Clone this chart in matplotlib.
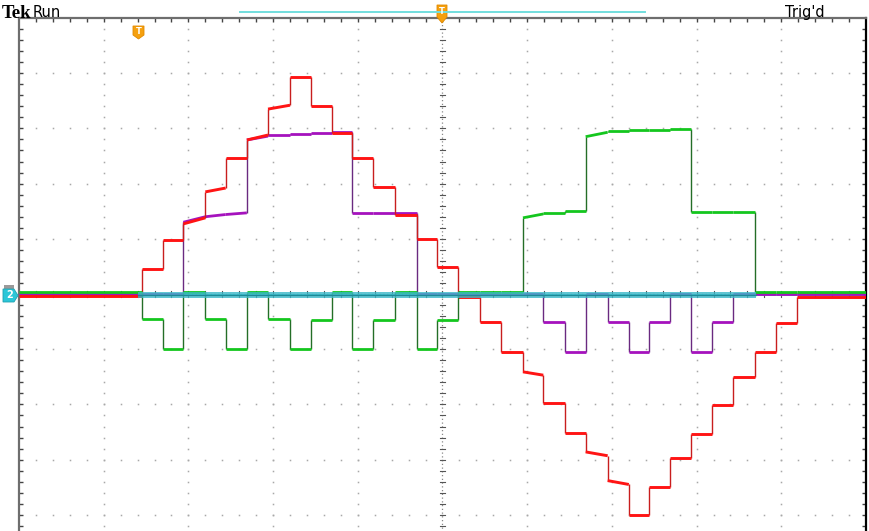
import matplotlib.pyplot as plt
from matplotlib.collections import LineCollection
from matplotlib.patches import Polygon

# screen is 10 x 10 divisions, time and level both in divisions
# step edges shared by all traces (div)
edges = [-3.55, -3.30, -3.06, -2.80, -2.56, -2.31, -2.06, -1.80, -1.55, -1.31,
         -1.07, -0.82, -0.56, -0.30, -0.07, 0.18, 0.44, 0.69, 0.95, 1.19,
         1.45, 1.69, 1.95, 2.20, 2.44, 2.69, 2.93, 3.18, 3.43, 3.69, 3.94, 4.19]

# level per interval between edges (33 intervals); a tuple = (start, end) of a sagging plateau
red_lvl = [-0.04, 0.45, 0.98, (1.27, 1.38), (1.85, 1.92), 2.46, (2.79, 2.88), (3.35, 3.42),
           3.93, 3.41, 2.92, 2.46, 1.94, 1.43, 1.00, 0.49, -0.05, -0.51, -1.05,
           (-1.41, -1.47), -1.97, -2.52, (-2.86, -2.93), (-3.38, -3.45), -4.00, -3.50,
           -2.97, -2.54, -2.01, -1.50, -1.05, -0.53, -0.05]
purple_lvl = [0.0, 0.0, 0.0, (1.30, 1.40), (1.40, 1.44), (1.44, 1.47), (2.79, 2.86), 2.88,
              2.90, 2.92, 2.93, 1.47, 1.47, 1.47, 0.0, 0.0, 0.0, 0.0, 0.0, 0.0,
              -0.51, -1.05, 0.0, -0.51, -1.05, -0.51, 0.0, -1.05, -0.51, 0.0, 0.0, 0.0, 0.0]
green_lvl = [0.04, -0.45, -1.00, 0.04, -0.45, -1.00, 0.04, -0.45, -1.00, -0.47, 0.04,
             -1.00, -0.47, 0.04, -1.00, -0.47, 0.04, 0.04, 0.04, (1.38, 1.45), 1.47, 1.50,
             (2.85, 2.93), 2.95, 2.97, 2.98, 2.99, 1.49, 1.49, 1.49, 0.04, 0.04, 0.04]
cyan_lvl = -0.02
cyan_noisy = (-3.60, 3.70)   # span where ch2 noise is wide

W, H = 870, 531
fig = plt.figure(figsize=(W / 100, H / 100), dpi=100)
fig.patch.set_facecolor("white")
ax = fig.add_axes([19 / W, 0, 847 / W, 513 / H])
ax.set_xlim(-5, 5)
ax.set_ylim(-4.293, 5)
ax.set_facecolor("white")


def fpx(x, y):
    # pixel (from top-left) to figure fraction
    return x / W, 1 - y / H


def trace(levels, col, edge_col, lw, z):
    bounds = [-5] + edges + [5]
    flat, vert = [], []
    prev = None
    for i, lv in enumerate(levels):
        a, b = (lv if isinstance(lv, tuple) else (lv, lv))
        x0, x1 = bounds[i], bounds[i + 1]
        flat.append([(x0, a), (x1, b)])
        if prev is not None and abs(prev - a) > 1e-6:
            vert.append([(x0, prev), (x0, a)])
        prev = b
    ax.add_collection(LineCollection(vert, colors=edge_col, linewidths=1.0, zorder=z))
    ax.add_collection(LineCollection(flat, colors=col, linewidths=lw, zorder=z + 0.1,
                                     capstyle="butt"))


# graticule dots
step = [i / 5 for i in range(-25, 26)]
for g in range(-4, 5):
    if g == 0:
        continue
    ax.plot([g] * len(step), step, ls="none", marker="s", ms=1.1, color="#a8a8a8", mew=0, zorder=1)
    ax.plot(step, [g] * len(step), ls="none", marker="s", ms=1.1, color="#a8a8a8", mew=0, zorder=1)
ax.plot([0, 0], [-5, 5], ls=(0, (1, 2)), lw=0.9, color="#8a8a8a", zorder=1)
ax.plot([-5, 5], [0, 0], ls=(0, (1, 2)), lw=0.9, color="#8a8a8a", zorder=1)
for s in step:
    ax.plot([-0.035, 0.035], [s, s], lw=0.8, color="#555555", zorder=1)
    ax.plot([s, s], [-0.06, 0.06], lw=0.8, color="#555555", zorder=1)

# frame and edge ticks
ax.spines["bottom"].set_visible(False)
ax.spines["top"].set_color("#6e6e6e")
ax.spines["left"].set_color("#6e6e6e")
ax.spines["right"].set_color("#000000")
for sp in ["top", "left", "right"]:
    ax.spines[sp].set_linewidth(1.6)
ax.set_xticks([i / 5 for i in range(-24, 25)])
ax.set_yticks([i / 5 for i in range(-21, 25)])
ax.tick_params(direction="in", length=3, width=1.0, color="#444444",
               top=True, bottom=False, left=True, right=True,
               labeltop=False, labelbottom=False, labelleft=False, labelright=False)

# waveforms
ax.plot([-5, 5], [cyan_lvl, cyan_lvl], color="#35b5c5", lw=1.2, zorder=2)
trace(purple_lvl, "#a512bd", "#6a2a80", 2.0, 3)
trace(red_lvl, "#ff1414", "#c81e1e", 2.1, 4)
trace(green_lvl, "#14c61e", "#246e28", 2.0, 5)
ax.fill_between(list(cyan_noisy), cyan_lvl - 0.06, cyan_lvl + 0.06,
                color="#3ab8c8", alpha=0.8, lw=0, zorder=6)
ax.plot(list(cyan_noisy), [cyan_lvl, cyan_lvl], color="#1d8a96", lw=0.9, zorder=6.5)

# header
fig.text(*fpx(2, 18), "Tek", fontsize=13.5, fontweight="bold", family="Liberation Serif",
         va="baseline", ha="left", color="black")
fig.text(*fpx(33, 17), "Run", fontsize=10.5, family="DejaVu Sans", va="baseline", ha="left")
fig.text(*fpx(785, 17), "Trig'd", fontsize=10.5, family="DejaVu Sans", va="baseline",
         ha="left")
fig.add_artist(plt.Line2D([240 / W, 645 / W], [1 - 12 / H] * 2, color="#72dede", lw=1.4))

# trigger marker at top centre
pts = [fpx(437, 5), fpx(447, 5), fpx(447, 17), fpx(442, 23), fpx(437, 17)]
fig.add_artist(Polygon(pts, closed=True, fc="#f5a00f", ec="#e08a00", lw=0.6))
fig.text(*fpx(442, 12), "T", fontsize=6, fontweight="bold", color="white",
         ha="center", va="center")

# trigger position marker
pts = [fpx(133, 26), fpx(144, 26), fpx(144, 35), fpx(138.5, 39), fpx(133, 35)]
fig.add_artist(Polygon(pts, closed=True, fc="#f5a00f", ec="#e08a00", lw=0.6))
fig.text(*fpx(138.5, 31.5), "T", fontsize=6, fontweight="bold", color="white",
         ha="center", va="center")

# channel 2 ground marker
fig.add_artist(Polygon([fpx(4, 285), fpx(14, 285), fpx(14, 289), fpx(4, 289)],
                       closed=True, fc="#9a9a9a", ec="none"))
pts = [fpx(3, 289), fpx(14, 289), fpx(18, 295.5), fpx(14, 302), fpx(3, 302)]
fig.add_artist(Polygon(pts, closed=True, fc="#2cc6d8", ec="#20a0b0", lw=0.6))
fig.text(*fpx(9.5, 295.5), "2", fontsize=7, fontweight="bold", color="white",
         ha="center", va="center")

fig.savefig("out.png", dpi=100)
